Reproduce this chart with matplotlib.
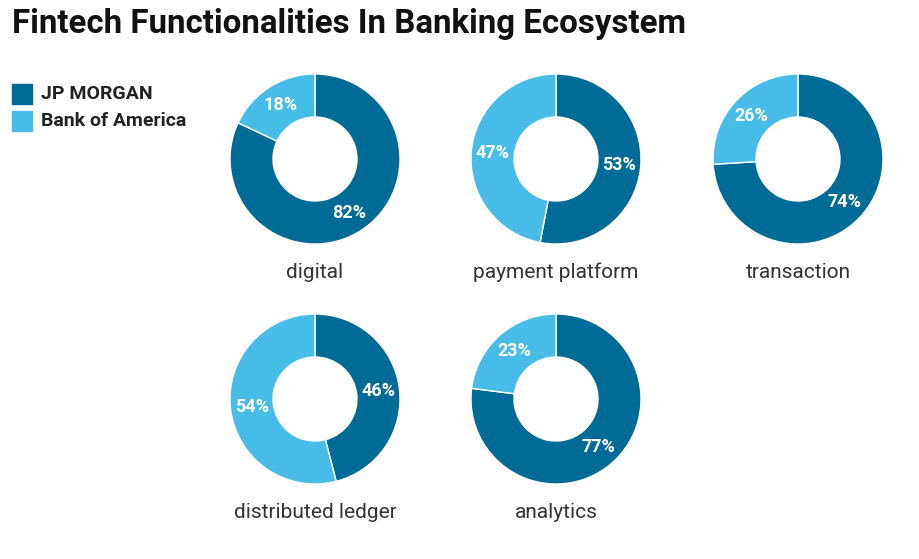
import matplotlib.pyplot as plt
from matplotlib.patches import Rectangle
import numpy as np

plt.rcParams['font.family'] = ['Roboto', 'DejaVu Sans']

# data
categories = ["digital", "payment platform", "transaction", "distributed ledger", "analytics"]
jp_morgan = [82, 53, 74, 46, 77]
bank_of_america = [18, 47, 26, 54, 23]
series_names = ["JP MORGAN", "Bank of America"]
colors = ["#006b96", "#47bce8"]

W, H = 920, 559
fig = plt.figure(figsize=(W / 100, H / 100), dpi=100)
ax = fig.add_axes([0, 0, 1, 1])

# pixel centres of donuts
centers = [(315, 159), (556, 159), (798, 159), (315, 399), (556, 399)]
r_out, r_in = 85, 42

for cat, a, b, (cx, cy) in zip(categories, jp_morgan, bank_of_america, centers):
    c = (cx, H - cy)
    wedges, _ = ax.pie([a, b], colors=colors, startangle=90, counterclock=False,
                       center=c, radius=r_out,
                       wedgeprops=dict(width=r_out - r_in, edgecolor="white", linewidth=1))
    r_mid = (r_out + r_in) / 2
    for w, v in zip(wedges, [a, b]):
        ang = np.deg2rad((w.theta1 + w.theta2) / 2)
        ax.text(c[0] + r_mid * np.cos(ang), c[1] + r_mid * np.sin(ang), f"{v}%",
                ha="center", va="center", color="white", fontsize=13, fontweight="bold")
    ax.text(cx, H - (cy + 113), cat, ha="center", va="center", fontsize=15, color="#333333")

ax.set_xlim(0, W)
ax.set_ylim(0, H)
ax.set_aspect("equal")
ax.axis("off")

# title
fig.text(12 / W, 1 - 24 / H, "Fintech Functionalities In Banking Ecosystem",
         ha="left", va="center", fontsize=23.8, fontweight="bold", color="#111111")

# legend
for i, (name, col) in enumerate(zip(series_names, colors)):
    y = 84 + i * 27
    ax.add_patch(Rectangle((12, H - y - 20), 20, 20, color=col))
    ax.text(41, H - y - 10, name, ha="left", va="center", fontsize=14,
            fontweight="bold", color="#222222")

fig.savefig("out.png", dpi=100)
